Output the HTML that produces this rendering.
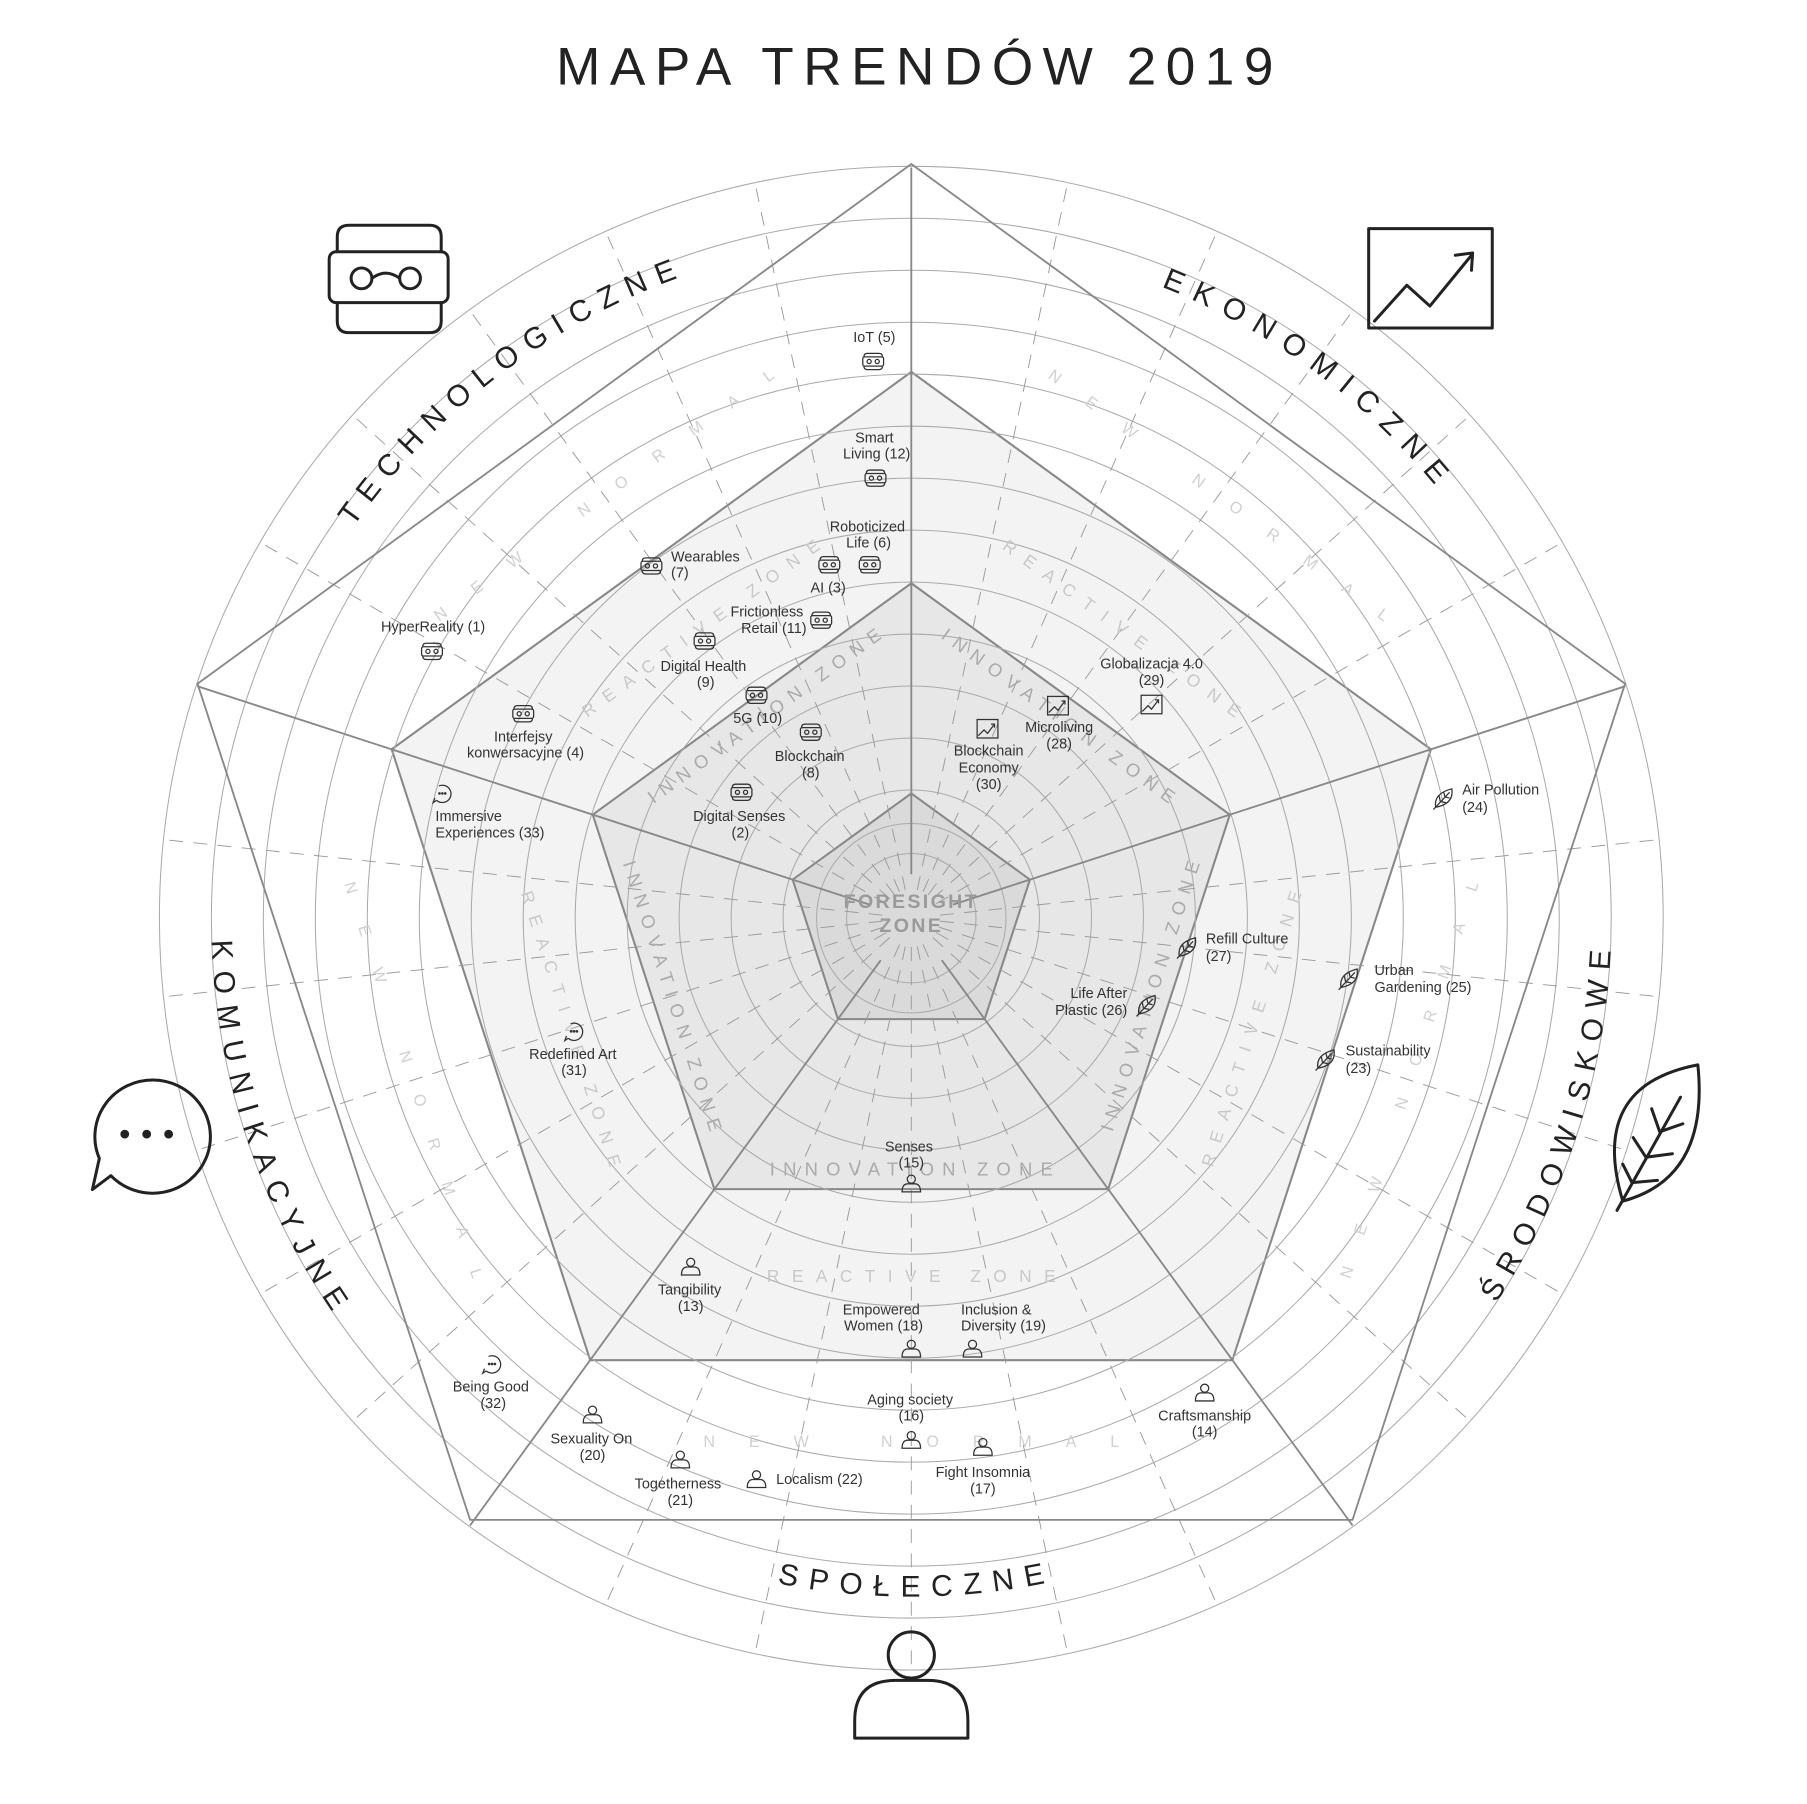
<!DOCTYPE html>
<html><head><meta charset="utf-8">
<style>
html,body{margin:0;padding:0;background:#fff;}
svg{display:block;}
.t{font-family:"Liberation Sans",sans-serif;font-size:12.5px;fill:#333;}
.z{font-family:"Liberation Sans",sans-serif;}
</style></head>
<body>
<svg width="1807" height="1804" viewBox="0 0 1564.5 1562" preserveAspectRatio="none" xmlns="http://www.w3.org/2000/svg">
<defs>
<g id="vr" fill="none" stroke="#333" stroke-width="1.1">
<rect x="-9" y="-4" width="18" height="8" rx="1.5"/>
<path d="M-8,-4 Q-8,-7 -5,-7 H5 Q8,-7 8,-4 M-8,4 Q-8,7 -5,7 H5 Q8,7 8,4"/>
<circle cx="-3.5" cy="0" r="1.8"/><circle cx="3.5" cy="0" r="1.8"/>
</g>
<g id="ch" fill="none" stroke="#333" stroke-width="1.1">
<rect x="-9" y="-8" width="18" height="16"/>
<polyline points="-8,6 -3,1 0,4 6,-4"/><polyline points="3,-4 6,-4 6,-1"/>
</g>
<g id="lf" fill="none" stroke="#333" stroke-width="1.1">
<path d="M-7,8 Q-9,-4 7,-8 Q9,5 -7,8 Z"/><path d="M-9,10 L5,-5 M-3,3 L-4,-2 M-3,3 L2,4 M1,-1 L0,-5 M1,-1 L5,0"/>
</g>
<g id="ct" fill="none" stroke="#333" stroke-width="1.1">
<path d="M-5,6 A7.5,7.5 0 1 0 -3,-6.5 M-5,6 L-8,8 L-6.5,4"/>
<circle cx="-2.5" cy="0" r="0.6" fill="#333"/><circle cx="0" cy="0" r="0.6" fill="#333"/><circle cx="2.5" cy="0" r="0.6" fill="#333"/>
</g>
<g id="ps" fill="none" stroke="#333" stroke-width="1.1">
<circle cx="0" cy="-4" r="3.5"/><path d="M-8,7 Q-8,0 -3,0 H3 Q8,0 8,7 Z"/>
</g>
<path id="pTech" d="M 291.4 1112 A 590 590 0 0 1 1224 396.4" fill="none"/>
<path id="pEko" d="M 345.2 409.2 A 588 588 0 0 1 1293 1097.8" fill="none"/>
<path id="pSr" d="M 652.6 1385.5 A 606 606 0 0 0 1025.8 237.2" fill="none"/>
<path id="pKom" d="M 552.2 237.2 A 606 606 0 0 0 925.4 1385.5" fill="none"/>
<path id="pSp" d="M 204.2 846.2 A 587 587 0 0 0 1373.8 846.2" fill="none"/>
</defs>
<rect width="1564.5" height="1562" fill="#fff"/>

<text x="792" y="73" class="z" font-size="46" fill="#222" text-anchor="middle" textLength="621" lengthAdjust="spacing">MAPA TRENDÓW 2019</text>

<polygon points="789,322 1238.9,648.8 1067,1177.7 511,1177.7 339.1,648.8" fill="#f3f3f3" stroke="#888" stroke-width="1.8"/>
<polygon points="789,505 1064.8,705.4 959.5,1029.6 618.5,1029.6 513.2,705.4" fill="#e7e7e7" stroke="#888" stroke-width="1.8"/>
<polygon points="789,687 891.7,761.6 852.5,882.4 725.5,882.4 686.3,761.6" fill="#dadada" stroke="#888" stroke-width="1.8"/>

<g fill="none" stroke="#aaa" stroke-width="0.9">
<circle cx="789" cy="795" r="56"/><circle cx="789" cy="795" r="82"/>
<circle cx="789" cy="795" r="111"/><circle cx="789" cy="795" r="156"/><circle cx="789" cy="795" r="201"/>
<circle cx="789" cy="795" r="246"/><circle cx="789" cy="795" r="291"/><circle cx="789" cy="795" r="336"/>
<circle cx="789" cy="795" r="381"/><circle cx="789" cy="795" r="426"/><circle cx="789" cy="795" r="471"/>
<circle cx="789" cy="795" r="516"/><circle cx="789" cy="795" r="561"/><circle cx="789" cy="795" r="606"/>
<circle cx="789" cy="795" r="651"/>
</g>

<g stroke="#999" stroke-width="0.8" stroke-dasharray="12 9">
<line x1="789" y1="770" x2="789" y2="148" transform="rotate(12 789 795)"/>
<line x1="789" y1="770" x2="789" y2="148" transform="rotate(24 789 795)"/>
<line x1="789" y1="770" x2="789" y2="148" transform="rotate(36 789 795)"/>
<line x1="789" y1="770" x2="789" y2="148" transform="rotate(48 789 795)"/>
<line x1="789" y1="770" x2="789" y2="148" transform="rotate(60 789 795)"/>
<line x1="789" y1="770" x2="789" y2="148" transform="rotate(84 789 795)"/>
<line x1="789" y1="770" x2="789" y2="148" transform="rotate(96 789 795)"/>
<line x1="789" y1="770" x2="789" y2="148" transform="rotate(108 789 795)"/>
<line x1="789" y1="770" x2="789" y2="148" transform="rotate(120 789 795)"/>
<line x1="789" y1="770" x2="789" y2="148" transform="rotate(132 789 795)"/>
<line x1="789" y1="770" x2="789" y2="148" transform="rotate(156 789 795)"/>
<line x1="789" y1="770" x2="789" y2="148" transform="rotate(168 789 795)"/>
<line x1="789" y1="770" x2="789" y2="148" transform="rotate(180 789 795)"/>
<line x1="789" y1="770" x2="789" y2="148" transform="rotate(192 789 795)"/>
<line x1="789" y1="770" x2="789" y2="148" transform="rotate(204 789 795)"/>
<line x1="789" y1="770" x2="789" y2="148" transform="rotate(228 789 795)"/>
<line x1="789" y1="770" x2="789" y2="148" transform="rotate(240 789 795)"/>
<line x1="789" y1="770" x2="789" y2="148" transform="rotate(252 789 795)"/>
<line x1="789" y1="770" x2="789" y2="148" transform="rotate(264 789 795)"/>
<line x1="789" y1="770" x2="789" y2="148" transform="rotate(276 789 795)"/>
<line x1="789" y1="770" x2="789" y2="148" transform="rotate(300 789 795)"/>
<line x1="789" y1="770" x2="789" y2="148" transform="rotate(312 789 795)"/>
<line x1="789" y1="770" x2="789" y2="148" transform="rotate(324 789 795)"/>
<line x1="789" y1="770" x2="789" y2="148" transform="rotate(336 789 795)"/>
<line x1="789" y1="770" x2="789" y2="148" transform="rotate(348 789 795)"/>
</g>

<g stroke="#888" stroke-width="1.6" fill="none">
<line x1="789" y1="757" x2="789" y2="145"/>
<line x1="789" y1="757" x2="789" y2="145" transform="rotate(72 789 795)"/>
<line x1="789" y1="750" x2="789" y2="145" transform="rotate(144 789 795)"/>
<line x1="789" y1="750" x2="789" y2="145" transform="rotate(216 789 795)"/>
<line x1="789" y1="757" x2="789" y2="145" transform="rotate(288 789 795)"/>
<polygon points="789,142 1407,592 1171,1316 407,1316 171,592"/>
</g>

<g class="z" text-anchor="middle">
<text x="789" y="786" font-size="17" font-weight="bold" fill="#9a9a9a" letter-spacing="2">FORESIGHT</text>
<text x="789" y="807" font-size="17" font-weight="bold" fill="#9a9a9a" letter-spacing="2">ZONE</text>
<g font-size="16" fill="#aaa">
<text x="661.4" y="619.4" dy="6" transform="rotate(-36 661.4 619.4)" textLength="245" lengthAdjust="spacing">INNOVATION ZONE</text>
<text x="916.6" y="619.4" dy="6" transform="rotate(36 916.6 619.4)" textLength="245" lengthAdjust="spacing">INNOVATION ZONE</text>
<text x="995.4" y="862.1" dy="6" transform="rotate(-72 995.4 862.1)" textLength="245" lengthAdjust="spacing">INNOVATION ZONE</text>
<text x="789" y="1012" dy="6" textLength="245" lengthAdjust="spacing">INNOVATION ZONE</text>
<text x="582.6" y="862.1" dy="6" transform="rotate(72 582.6 862.1)" textLength="245" lengthAdjust="spacing">INNOVATION ZONE</text>
</g>
<g font-size="15" fill="#c8c8c8">
<text x="606.8" y="544.2" dy="5" transform="rotate(-36 606.8 544.2)" textLength="250" lengthAdjust="spacing">REACTIVE ZONE</text>
<text x="971.2" y="544.2" dy="5" transform="rotate(36 971.2 544.2)" textLength="250" lengthAdjust="spacing">REACTIVE ZONE</text>
<text x="1083.8" y="890.8" dy="5" transform="rotate(-72 1083.8 890.8)" textLength="250" lengthAdjust="spacing">REACTIVE ZONE</text>
<text x="789" y="1105" dy="5" textLength="250" lengthAdjust="spacing">REACTIVE ZONE</text>
<text x="494.2" y="890.8" dy="5" transform="rotate(72 494.2 890.8)" textLength="250" lengthAdjust="spacing">REACTIVE ZONE</text>
</g>
<g font-size="14" fill="#d0d0d0">
<text x="522.7" y="428.5" dy="5" transform="rotate(-36 522.7 428.5)" textLength="360" lengthAdjust="spacing">NEW NORMAL</text>
<text x="1055.3" y="428.5" dy="5" transform="rotate(36 1055.3 428.5)" textLength="360" lengthAdjust="spacing">NEW NORMAL</text>
<text x="1219.8" y="935" dy="5" transform="rotate(-72 1219.8 935)" textLength="360" lengthAdjust="spacing">NEW NORMAL</text>
<text x="789" y="1248" dy="5" textLength="360" lengthAdjust="spacing">NEW NORMAL</text>
<text x="358.2" y="935" dy="5" transform="rotate(72 358.2 935)" textLength="360" lengthAdjust="spacing">NEW NORMAL</text>
</g>
</g>

<g class="z" font-size="26" fill="#222" text-anchor="middle">
<text><textPath href="#pTech" startOffset="50%" textLength="360" lengthAdjust="spacing">TECHNOLOGICZNE</textPath></text>
<text><textPath href="#pEko" startOffset="50%" textLength="296" lengthAdjust="spacing">EKONOMICZNE</textPath></text>
<text><textPath href="#pSr" startOffset="50%" textLength="325" lengthAdjust="spacing">ŚRODOWISKOWE</textPath></text>
<text><textPath href="#pKom" startOffset="50%" textLength="343" lengthAdjust="spacing">KOMUNIKACYJNE</textPath></text>
<text><textPath href="#pSp" startOffset="50%" textLength="234" lengthAdjust="spacing">SPOŁECZNE</textPath></text>
</g>

<g fill="none" stroke="#222" stroke-width="2.6" stroke-linejoin="round" stroke-linecap="round">
<rect x="285" y="218" width="103" height="44" rx="6"/>
<path d="M292,218 V205 Q292,195 302,195 H372 Q382,195 382,205 V218 M292,262 V278 Q292,288 302,288 H372 Q382,288 382,278 V262"/>
<circle cx="313" cy="241" r="9"/><circle cx="355" cy="241" r="9"/>
<path d="M322,241 Q334,232 346,241"/>
<rect x="1185" y="198" width="107" height="86"/>
<polyline points="1190,278 1218,247 1238,265 1274,221"/>
<polyline points="1260,221 1275,219 1274,234"/>
<path d="M1470,922 Q1480,1020 1405,1040 Q1375,940 1470,922 Z"/>
<path d="M1400,1048 L1455,950 M1437,980 L1430,960 M1437,980 L1457,973 M1425,1002 L1414,985 M1425,1002 L1448,999 M1413,1024 L1405,1008 M1413,1024 L1435,1022"/>
<path d="M96,1018 A50,49 0 1 0 86,1003 L80,1030 Z"/>
<circle cx="108" cy="982" r="2.5" fill="#222"/><circle cx="127" cy="982" r="2.5" fill="#222"/><circle cx="146" cy="982" r="2.5" fill="#222"/>
<circle cx="789" cy="1433" r="20"/>
<path d="M740,1505 V1490 Q740,1455 775,1455 H803 Q838,1455 838,1490 V1505 Z"/>
</g>

<use href="#vr" x="756" y="313"/><use href="#vr" x="758" y="414"/><use href="#vr" x="753" y="489"/>
<use href="#vr" x="718" y="489"/><use href="#vr" x="564" y="490"/><use href="#vr" x="711" y="537"/>
<use href="#vr" x="374" y="564"/><use href="#vr" x="610" y="555"/><use href="#vr" x="655" y="602"/>
<use href="#vr" x="453" y="618"/><use href="#vr" x="702" y="634"/><use href="#vr" x="642" y="686"/>
<use href="#ct" x="383" y="687"/><use href="#ct" x="497" y="893"/><use href="#ct" x="426" y="1181"/>
<use href="#ch" x="997" y="610"/><use href="#ch" x="916" y="611"/><use href="#ch" x="855" y="631"/>
<use href="#lf" x="1250" y="691"/><use href="#lf" x="1028" y="820"/><use href="#lf" x="1168" y="847"/>
<use href="#lf" x="993" y="870"/><use href="#lf" x="1148" y="917"/>
<use href="#ps" x="789" y="1025"/><use href="#ps" x="598" y="1097"/><use href="#ps" x="789" y="1168"/>
<use href="#ps" x="842" y="1168"/><use href="#ps" x="1043" y="1206"/><use href="#ps" x="789" y="1247"/>
<use href="#ps" x="513" y="1225"/><use href="#ps" x="851" y="1253"/><use href="#ps" x="589" y="1264"/>
<use href="#ps" x="655" y="1281"/>

<g class="t" text-anchor="middle">
<text x="757" y="296">IoT (5)</text>
<text x="757" y="383">Smart</text><text x="759" y="397">Living (12)</text>
<text x="751" y="460">Roboticized</text><text x="752" y="474">Life (6)</text>
<text x="717" y="513">AI (3)</text>
<text x="664" y="534">Frictionless</text><text x="670" y="548">Retail (11)</text>
<text x="375" y="547">HyperReality (1)</text>
<text x="609" y="581">Digital Health</text><text x="611" y="595">(9)</text>
<text x="656" y="626">5G (10)</text>
<text x="453" y="642">Interfejsy</text><text x="455" y="656">konwersacyjne (4)</text>
<text x="701" y="659">Blockchain</text><text x="702" y="673">(8)</text>
<text x="640" y="711">Digital Senses</text><text x="641" y="725">(2)</text>
<text x="997" y="579">Globalizacja 4.0</text><text x="997" y="593">(29)</text>
<text x="917" y="634">Microliving</text><text x="917" y="648">(28)</text>
<text x="856" y="654">Blockchain</text><text x="856" y="669">Economy</text><text x="856" y="683">(30)</text>
<text x="496" y="917">Redefined Art</text><text x="497" y="931">(31)</text>
<text x="787" y="997">Senses</text><text x="789" y="1011">(15)</text>
<text x="597" y="1121">Tangibility</text><text x="598" y="1135">(13)</text>
<text x="763" y="1138">Empowered</text><text x="765" y="1152">Women (18)</text>
<text x="425" y="1205">Being Good</text><text x="427" y="1219">(32)</text>
<text x="1043" y="1230">Craftsmanship</text><text x="1043" y="1244">(14)</text>
<text x="788" y="1216">Aging society</text><text x="789" y="1230">(16)</text>
<text x="512" y="1250">Sexuality On</text><text x="513" y="1264">(20)</text>
<text x="851" y="1279">Fight Insomnia</text><text x="851" y="1293">(17)</text>
<text x="587" y="1289">Togetherness</text><text x="589" y="1303">(21)</text>
</g>
<g class="t">
<text x="581" y="486">Wearables</text><text x="581" y="500">(7)</text>
<text x="377" y="711">Immersive</text><text x="377" y="725">Experiences (33)</text>
<text x="1266" y="688">Air Pollution</text><text x="1266" y="703">(24)</text>
<text x="1044" y="817">Refill Culture</text><text x="1044" y="832">(27)</text>
<text x="1190" y="844">Urban</text><text x="1190" y="859">Gardening (25)</text>
<text x="1165" y="914">Sustainability</text><text x="1165" y="929">(23)</text>
<text x="832" y="1138">Inclusion &amp;</text><text x="832" y="1152">Diversity (19)</text>
<text x="672" y="1285">Localism (22)</text>
</g>
<g class="t" text-anchor="end">
<text x="976" y="864">Life After</text><text x="976" y="879">Plastic (26)</text>
</g>
</svg>
</body></html>
